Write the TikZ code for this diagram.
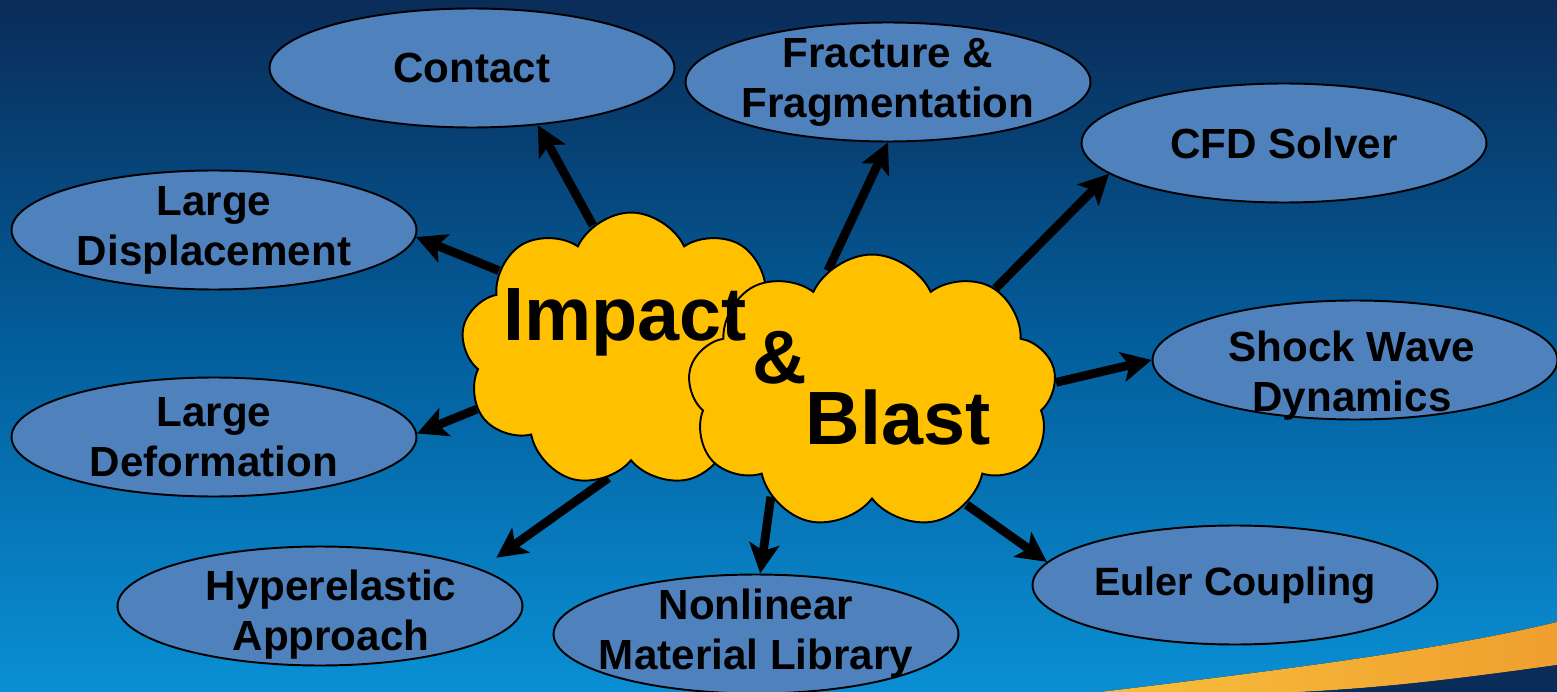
\documentclass[tikz,border=0pt]{standalone}
\usepackage{fontspec}
\setmainfont{Liberation Sans}
\usetikzlibrary{shapes.geometric,shapes.symbols,arrows.meta}
\definecolor{navytop}{HTML}{0A2C58}
\definecolor{bluemid}{HTML}{035E9C}
\definecolor{bluebot}{HTML}{0A8FD4}
\definecolor{topicblue}{HTML}{4F81BD}
\definecolor{cloudgold}{HTML}{FFC000}
\definecolor{swooshA}{HTML}{F8BE3C}
\definecolor{swooshB}{HTML}{EF9F2E}
\pgfdeclarelayer{bg}
\pgfdeclarelayer{arrows}
\pgfsetlayers{bg,arrows,main}

\begin{document}
\begin{tikzpicture}[x=0.02cm, y=-0.02cm,
	topic/.style={ellipse, draw=black, line width=1.1pt, fill=topicblue,
		minimum width=8.1cm, minimum height=2.38cm, inner sep=-8pt,
		align=center, font=\fontsize{24}{28.5}\selectfont\bfseries},
	topictext/.style={inner sep=0pt, align=center,
		font=\fontsize{24}{28.5}\selectfont\bfseries},
	cloudy/.style={cloud, cloud puffs=9, cloud puff arc=130, draw=black,
		line width=1.1pt, fill=cloudgold, inner sep=0pt},
	bigword/.style={inner sep=0pt, anchor=base,
		font=\fontsize{43}{48}\selectfont\bfseries},
	arr/.style={line width=5pt, -{Stealth[length=17pt,width=17pt,inset=4pt]}}]
	%%%%% START %%%%%
	
	\useasboundingbox (0,0) rectangle (1557,692);
	
	\begin{pgfonlayer}{bg}
		\fill[top color=navytop, bottom color=bluebot, middle color=bluemid] (0,0) rectangle (1557,692);
		% swoosh
		\fill[left color=swooshA, right color=swooshB] (1100,692) .. controls (1300,668) and (1450,648) .. (1557,622)
			-- (1557,665) .. controls (1450,680) and (1380,688) .. (1300,692) -- cycle;
		\fill[navytop] (1300,692) .. controls (1380,688) and (1450,680) .. (1557,665) -- (1557,692) -- cycle;
	\end{pgfonlayer}
	
	% topics
	\node[topic] (contact) at (472,68) {Contact};
	\node[topic] (fracture) at (888,82) {Fracture \&\\Fragmentation};
	\node[topic] (cfd) at (1284,143) {CFD Solver};
	\node[topic] (displace) at (214,230) {Large\\Displacement};
	\node[topic] (shock) at (1355,360) {};
	\node[topictext] (shocklbl) at (1352,376) {Shock Wave\\Dynamics};
	\node[topic] (deform) at (214,437) {Large\\Deformation};
	\node[topic] (hyper) at (320,606) {};
	\node[topictext] (hyperlbl) at (331,615) {Hyperelastic\\Approach};
	\node[topic] (nonlin) at (756,634) {Nonlinear\\Material Library};
	\node[topic, font=\fontsize{22.5}{27}\selectfont\bfseries] (euler) at (1235,585) {Euler Coupling};
	
	% clouds
	\node[cloudy, minimum width=6.8cm, minimum height=5.5cm] (impactcloud) at (631,350) {};
	\node[cloudy, minimum width=7.38cm, minimum height=5.5cm] (blastcloud) at (872,392) {};
	
	\node[bigword] (impact) at (625,340) {Impact};
	\node[bigword] (amp) at (780,383) {\&};
	\node[bigword] (blast) at (898,444) {Blast};
	
	\begin{pgfonlayer}{arrows}
		\draw[arr] (impactcloud.107) -- (contact.-41);
		\draw[arr] (impactcloud.149) -- (displace.-2);
		\draw[arr] (blastcloud.110) -- (fracture.-90);
		\draw[arr] (blastcloud.40) -- (cfd.-170);
		\draw[arr] (blastcloud.3) -- (shock.180);
		\draw[arr] (impactcloud.201) -- (deform.1);
		\draw[arr, shorten >=11pt] (impactcloud.260) -- (hyper.13);
		\draw[arr] (blastcloud.226) -- (nonlin.86);
		\draw[arr] (blastcloud.-50) -- (euler.173);
	\end{pgfonlayer}
	
	%%%%% END %%%%%
\end{tikzpicture}
\end{document}
